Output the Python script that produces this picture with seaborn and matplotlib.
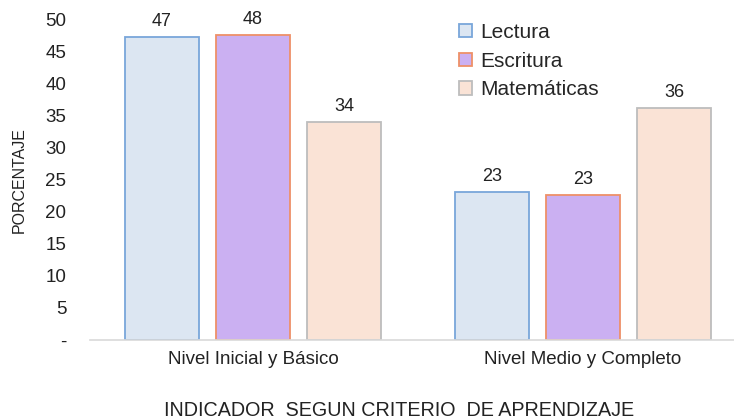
import matplotlib
matplotlib.use("Agg")
import matplotlib.pyplot as plt
import seaborn as sns
import pandas as pd

categories = ["Nivel Inicial y Básico", "Nivel Medio y Completo"]
series = ["Lectura", "Escritura", "Matemáticas"]
lectura = [47.4, 23.1]
escritura = [47.6, 22.7]
matematicas = [34.0, 36.2]
yticks = [0, 5, 10, 15, 20, 25, 30, 35, 40, 45, 50]
ytick_labels = ["-", "5", "10", "15", "20", "25", "30", "35", "40", "45", "50"]

face = {"Lectura": "#DCE6F2", "Escritura": "#CBB0F2", "Matemáticas": "#FAE3D6"}
edge = {"Lectura": "#79A6DA", "Escritura": "#EE9068", "Matemáticas": "#BDBDBD"}

rows = []
for s, vals in zip(series, [lectura, escritura, matematicas]):
    for c, v in zip(categories, vals):
        rows.append({"cat": c, "serie": s, "val": v})
df = pd.DataFrame(rows)

sns.set_style("white")
plt.rcParams["font.family"] = ["Liberation Sans", "DejaVu Sans"]

fig = plt.figure(figsize=(7.34, 4.2), dpi=100)
ax = fig.add_axes([90 / 734, 1 - 340 / 420, 644 / 734, 320 / 420])

sns.barplot(data=df, x="cat", y="val", hue="serie", order=categories,
            hue_order=series, palette=face, width=0.828, gap=0.19,
            linewidth=1.3, saturation=1, ax=ax, errorbar=None)

for cont, s in zip(ax.containers, series):
    for p in cont:
        p.set_edgecolor(edge[s])
        p.set_linewidth(1.3)
    ax.bar_label(cont, labels=[f"{v:.0f}" for v in cont.datavalues],
                 padding=5, fontsize=13, color="#222222")

ax.set_ylim(0, 50)
ax.set_xlim(-0.494, 1.458)
ax.set_yticks(yticks)
ax.set_yticklabels(ytick_labels)
ax.tick_params(axis="y", length=0, pad=17, labelsize=13.5, labelcolor="#222222")
ax.tick_params(axis="x", length=0, pad=8, labelsize=13.5, labelcolor="#222222")

for sp in ["top", "right", "left"]:
    ax.spines[sp].set_visible(False)
ax.spines["bottom"].set_color("#D9D9D9")
ax.spines["bottom"].set_linewidth(1.2)

ax.set_ylabel("PORCENTAJE", fontsize=11.5, color="#222222")
ax.set_xlabel("INDICADOR  SEGUN CRITERIO  DE APRENDIZAJE", fontsize=14.2,
              color="#222222")
ax.yaxis.set_label_coords(-0.098, 0.5)
ax.xaxis.set_label_coords(0.48, -0.19)

leg = ax.legend(loc="upper left", bbox_to_anchor=(0.56, 1.017), frameon=False,
                fontsize=15, handlelength=0.63, handleheight=0.63,
                handletextpad=0.4, labelspacing=0.47, borderaxespad=0)
for h, s in zip(leg.legend_handles, series):
    h.set_edgecolor(edge[s])
    h.set_linewidth(1.3)

fig.savefig("out.png", dpi=100)
